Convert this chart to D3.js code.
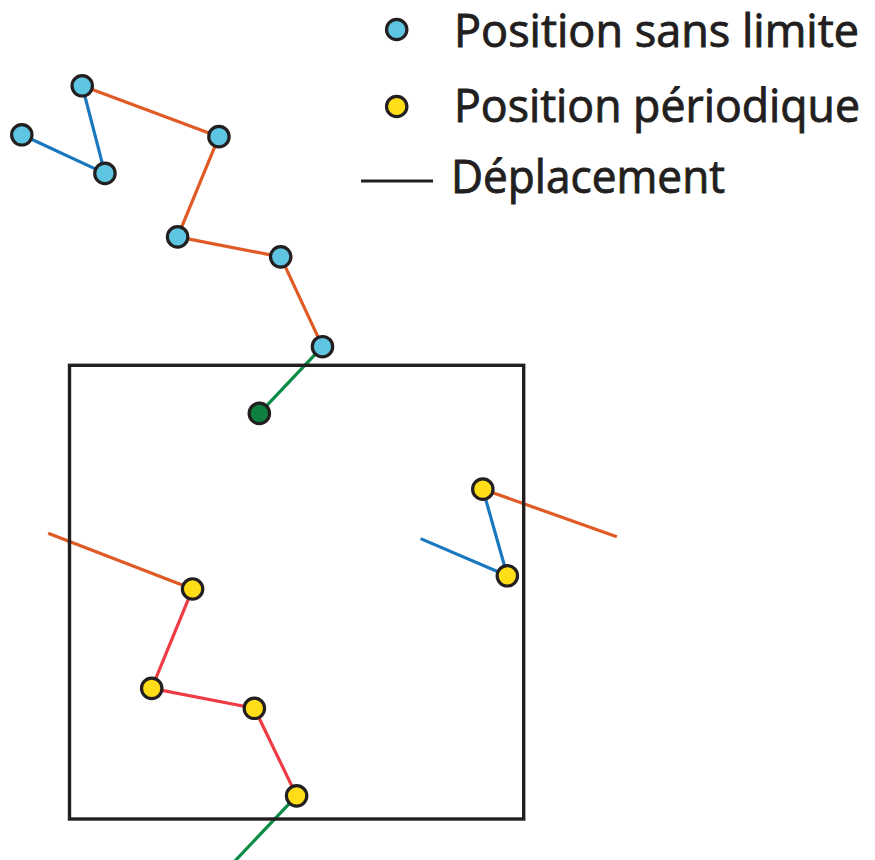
<!DOCTYPE html>
<html>
<head>
<meta charset="utf-8">
<script src="https://cdn.jsdelivr.net/npm/d3@7"></script>
<style>
  html, body { margin: 0; padding: 0; background: #ffffff; }
  svg { display: block; }
</style>
</head>
<body>
<svg id="chart" width="875" height="860"></svg>
<script>
// ---- Data (box units: box spans 0..10 in x and y, y pointing up) ----
const boxSize = 10;

// Unwrapped trajectory ("Position sans limite")
const unwrappedX = [-1.05, 0.78, 0.28, 3.29, 2.38, 4.65, 5.57];
const unwrappedY = [15.08, 14.23, 16.16, 15.04, 12.83, 12.39, 10.41];
// Current position (inside the box)
const currentX = [4.18];
const currentY = [8.94];
// Colour of each displacement step (7 steps, last one leads to the current position)
const stepColors = ["blue", "blue", "orange", "orange", "orange", "orange", "green"];

// Periodic positions ("Position périodique")
const periodicX = [9.10, 9.64, 2.71, 1.81, 4.07, 5.00];
const periodicY = [7.27, 5.36, 5.07, 2.88, 2.44, 0.51];

// Displacement segments in the periodic picture: [x1, y1, x2, y2, colour]
const periodicSegments = [
  [7.73, 6.18, 9.64, 5.36, "blue"],
  [9.64, 5.36, 9.10, 7.27, "blue"],
  [9.10, 7.27, 12.05, 6.22, "orange"],
  [-0.47, 6.30, 2.71, 5.07, "orange"],
  [2.71, 5.07, 1.81, 2.88, "red"],
  [1.81, 2.88, 4.07, 2.44, "red"],
  [4.07, 2.44, 5.00, 0.51, "red"],
  [5.00, 0.51, 3.61, -0.96, "green"]
];

// Legend
const legendLabels = ["Position sans limite", "Position périodique", "Déplacement"];

// ---- Styles ----
const lineColor = { blue: "#1a78be", orange: "#e05a26", red: "#ef3b44", green: "#0a8c45" };
const fillUnwrapped = "#5ec5e2";
const fillPeriodic = "#ffde17";
const fillCurrent = "#0e7f3e";
const ink = "#231f20";

const svg = d3.select("#chart");

const x = d3.scaleLinear().domain([0, boxSize]).range([69.5, 523.7]);
const y = d3.scaleLinear().domain([0, boxSize]).range([819, 365.3]);

const gLines = svg.append("g");
const gBox = svg.append("g");
const gDots = svg.append("g");

// Unwrapped displacement lines
const unwrappedPts = unwrappedX.map((v, i) => [v, unwrappedY[i]]).concat([[currentX[0], currentY[0]]]);
const unwrappedSegs = stepColors.map((c, i) => [unwrappedPts[i][0], unwrappedPts[i][1], unwrappedPts[i + 1][0], unwrappedPts[i + 1][1], c]);

gLines.selectAll("line.u").data(unwrappedSegs).join("line")
  .attr("class", "u")
  .attr("x1", d => x(d[0])).attr("y1", d => y(d[1]))
  .attr("x2", d => x(d[2])).attr("y2", d => y(d[3]))
  .attr("stroke", d => lineColor[d[4]])
  .attr("stroke-width", 3.2);

gLines.selectAll("line.p").data(periodicSegments).join("line")
  .attr("class", "p")
  .attr("x1", d => x(d[0])).attr("y1", d => y(d[1]))
  .attr("x2", d => x(d[2])).attr("y2", d => y(d[3]))
  .attr("stroke", d => lineColor[d[4]])
  .attr("stroke-width", 3.2);

// Simulation box
gBox.append("rect")
  .attr("x", x(0)).attr("y", y(boxSize))
  .attr("width", x(boxSize) - x(0)).attr("height", y(0) - y(boxSize))
  .attr("fill", "none")
  .attr("stroke", ink)
  .attr("stroke-width", 3.4);

const r = 10.2;
const sw = 3.2;

gDots.selectAll("circle.u").data(unwrappedX.map((v, i) => [v, unwrappedY[i]])).join("circle")
  .attr("class", "u")
  .attr("cx", d => x(d[0])).attr("cy", d => y(d[1]))
  .attr("r", r).attr("fill", fillUnwrapped).attr("stroke", ink).attr("stroke-width", sw);

gDots.selectAll("circle.c").data(currentX.map((v, i) => [v, currentY[i]])).join("circle")
  .attr("class", "c")
  .attr("cx", d => x(d[0])).attr("cy", d => y(d[1]))
  .attr("r", r).attr("fill", fillCurrent).attr("stroke", ink).attr("stroke-width", sw);

gDots.selectAll("circle.p").data(periodicX.map((v, i) => [v, periodicY[i]])).join("circle")
  .attr("class", "p")
  .attr("cx", d => x(d[0])).attr("cy", d => y(d[1]))
  .attr("r", r).attr("fill", fillPeriodic).attr("stroke", ink).attr("stroke-width", sw);

// ---- Legend ----
const gLeg = svg.append("g").attr("font-family", "'Open Sans', 'Noto Sans', sans-serif")
  .attr("fill", ink).attr("font-size", 45)
  .attr("stroke", ink).attr("stroke-width", 0.9);

gLeg.append("circle").attr("cx", 396.7).attr("cy", 29.5).attr("r", r)
  .attr("fill", fillUnwrapped).attr("stroke", ink).attr("stroke-width", sw);
gLeg.append("circle").attr("cx", 396.7).attr("cy", 106.5).attr("r", r)
  .attr("fill", fillPeriodic).attr("stroke", ink).attr("stroke-width", sw);
gLeg.append("line").attr("x1", 361).attr("x2", 433).attr("y1", 181).attr("y2", 181)
  .attr("stroke", ink).attr("stroke-width", 3.2);

const legendPos = [[454, 47, 405], [454, 122, 406], [451, 193, 274]];
legendLabels.forEach((t, i) => {
  gLeg.append("text")
    .attr("x", legendPos[i][0]).attr("y", legendPos[i][1])
    .attr("textLength", legendPos[i][2])
    .attr("lengthAdjust", "spacingAndGlyphs")
    .text(t);
});
</script>
</body>
</html>
